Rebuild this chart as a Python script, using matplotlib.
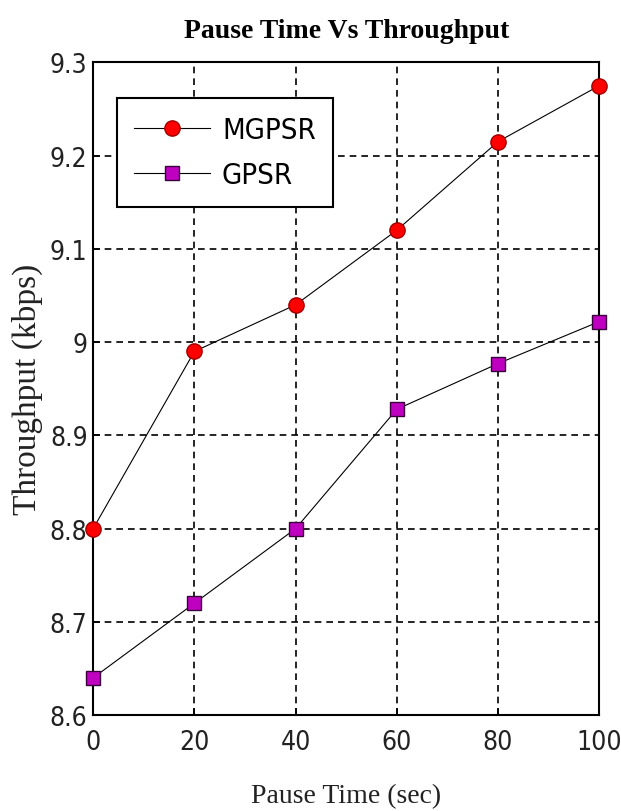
import matplotlib
matplotlib.use("Agg")
import matplotlib.pyplot as plt

pause_time = [0, 20, 40, 60, 80, 100]
mgpsr = [8.80, 8.99, 9.04, 9.12, 9.215, 9.275]
gpsr = [8.64, 8.72, 8.80, 8.928, 8.977, 9.022]
y_ticks = [8.6, 8.7, 8.8, 8.9, 9.0, 9.1, 9.2, 9.3]
y_tick_labels = ["8.6", "8.7", "8.8", "8.9", "9", "9.1", "9.2", "9.3"]

sans = ["DejaVu Sans"]
serif = ["Liberation Serif", "DejaVu Serif"]

fig = plt.figure(figsize=(6.21, 8.12), dpi=100)
ax = fig.add_axes([0.150, 0.118, 0.815, 0.804])

ax.plot(pause_time, mgpsr, color="black", lw=0.8, marker="o", markersize=11,
        markerfacecolor="#ff0000", markeredgecolor="#a00000", markeredgewidth=1.0,
        label="MGPSR", zorder=3, clip_on=False)
ax.plot(pause_time, gpsr, color="black", lw=0.8, marker="s", markersize=10,
        markerfacecolor="#c000c0", markeredgecolor="#3a003a", markeredgewidth=1.0,
        label="GPSR", zorder=3, clip_on=False)

ax.set_xlim(0, 100)
ax.set_ylim(8.6, 9.3)
ax.set_xticks(pause_time)
ax.set_yticks(y_ticks)
ax.set_yticklabels(y_tick_labels)
for lab in ax.get_xticklabels() + ax.get_yticklabels():
    lab.set_family(sans)
    lab.set_stretch("condensed")
    lab.set_fontsize(19)
    lab.set_color("#222222")
ax.tick_params(axis="both", direction="in", length=5, width=1.2)
ax.tick_params(axis="x", pad=10)
ax.tick_params(axis="y", pad=4)

ax.grid(True, color="black", linestyle=(0, (4, 3)), linewidth=1.2)
ax.set_axisbelow(True)
for sp in ax.spines.values():
    sp.set_linewidth(1.5)

ax.set_title("Pause Time Vs Throughput", family=serif, fontweight="bold",
             fontsize=20, pad=18)
ax.set_xlabel("Pause Time (sec)", family=serif, fontsize=20, labelpad=20,
              color="#222222")
ax.set_ylabel("Throughput (kbps)", family=serif, fontsize=24,
              color="#222222")
ax.yaxis.set_label_coords(-0.10, 0.5)

leg = ax.legend(loc="upper left", bbox_to_anchor=(0.047, 0.945),
                borderaxespad=0,
                prop={"family": sans, "stretch": "condensed", "size": 21},
                handlelength=2.6, handletextpad=0.4, borderpad=0.6,
                labelspacing=0.6, fancybox=False, framealpha=1,
                edgecolor="black")
leg.get_frame().set_linewidth(1.5)

fig.savefig("out.png", dpi=100)
